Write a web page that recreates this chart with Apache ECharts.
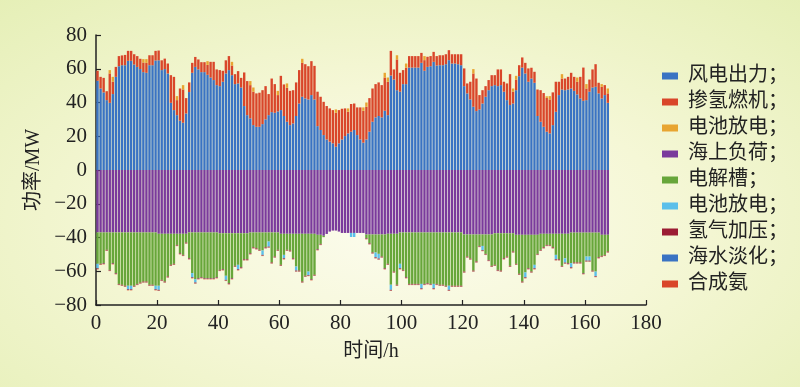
<!DOCTYPE html>
<html><head><meta charset="utf-8">
<script src="https://cdn.jsdelivr.net/npm/echarts@6/dist/echarts.min.js"></script>
<style>
html,body{margin:0;padding:0;}
#c{width:800px;height:387px;background:radial-gradient(ellipse 75% 80% at 50% 58%, #fcfcee 0%, #f5f7d6 45%, #e5efb6 100%);}
</style></head><body>
<div id="c"></div>
<script>
// hour slots on the time axis (0-180 h, one slot per hour)
const hourSlots = [];
for (let i = 1; i <= 180; i++) hourSlots.push(String(i));

const windPower = [
52.9,48.3,46.0,41.4,39.8,45.0,55.2,61.5,62.1,62.1,
64.7,64.7,62.5,61.1,59.8,58.0,57.6,62.1,62.1,64.9,
65.0,59.2,59.8,57.2,39.8,35.5,32.5,29.2,28.0,33.5,
46.2,57.6,61.1,59.6,58.0,58.0,56.4,54.8,53.3,50.3,
49.7,52.3,57.2,59.2,56.2,50.9,51.3,48.9,37.9,32.5,
30.6,26.6,25.6,25.6,27.2,30.0,32.5,34.3,33.9,34.7,
35.5,32.0,28.6,26.6,27.6,32.0,39.4,43.4,42.4,41.8,
44.4,41.8,26.0,23.7,20.7,18.1,16.8,15.8,13.8,15.8,
18.1,20.1,21.7,22.7,23.7,20.7,18.1,16.2,18.1,22.7,
28.6,31.2,32.0,31.2,35.1,32.5,56.0,53.6,47.3,46.4,
50.9,50.9,60.7,60.7,60.7,60.7,63.5,58.8,61.1,61.5,
64.1,61.9,62.1,62.1,62.7,65.1,63.1,63.1,62.7,62.1,
49.7,45.4,41.8,37.5,34.9,35.9,39.4,43.4,47.3,49.7,
50.3,49.7,50.3,46.4,41.4,38.5,39.4,47.3,55.6,60.7,
57.2,52.3,54.2,51.7,32.0,28.6,25.6,22.7,21.7,26.6,
34.5,44.4,47.7,47.3,47.7,48.3,46.9,44.8,42.4,41.0,
41.4,46.4,48.9,49.3,45.4,42.4,44.4,39.8];

const h2Turbine = [
5.9,6.9,8.6,5.3,17.4,7.3,5.9,6.0,5.8,6.1,
5.9,5.9,6.1,6.4,6.1,5.7,5.9,5.9,5.9,5.7,
5.8,5.8,6.2,5.9,16.4,19.7,8.9,19.1,19.7,9.1,
5.7,5.9,5.9,5.9,5.9,5.9,5.9,9.3,10.8,9.3,
9.5,6.5,7.8,8.3,5.7,5.9,7.3,5.7,19.9,20.2,
19.7,19.8,19.8,20.2,20.1,19.7,12.5,19.9,17.0,9.7,
20.3,18.7,20.1,20.3,19.7,19.9,19.8,20.1,20.3,19.7,
20.1,19.9,20.4,19.7,19.7,19.8,19.7,19.7,20.1,19.7,
18.2,16.4,12.8,16.4,15.7,16.4,19.0,18.9,19.4,19.9,
19.7,19.7,19.9,19.1,19.7,19.8,14.6,6.0,18.2,11.2,
8.3,9.8,6.8,6.8,6.8,6.8,5.9,6.3,6.0,6.0,
5.9,5.6,5.9,5.9,5.9,5.9,5.5,5.5,5.9,6.5,
10.5,5.9,10.5,19.7,19.3,8.5,7.9,6.3,6.0,6.5,
5.9,9.9,9.3,5.9,9.9,18.3,7.0,6.3,6.5,6.0,
6.3,7.9,6.4,6.5,15.7,18.7,20.0,20.0,20.1,19.4,
17.8,7.9,6.5,6.9,7.5,9.3,8.3,7.5,12.8,19.7,
6.9,7.2,10.7,13.4,6.3,6.9,5.9,5.6];

const batteryDischarge = [
0,0,0,0,2.0,2.9,0,0,0,0,
0,0,0,0,0,2.0,2.2,0,0,0,
0,0,0,0,0,0,2.4,0,2.6,0,
0,0,0,0,0,0,2.2,0,0,0,
0,0,0,0,2.2,0,0,0,0,0,
2.4,2.5,0,0,0,0,0,0,0,2.5,
0,0,2.6,0,0,0,0,2.4,0,0,
0,0,0,0,0,0,0,0,2.0,0,
0,0,2.0,0,0,0,0,2.0,2.5,0,
0,0,0,0,2.8,2.5,0,0,2.5,0,
0,2.4,0,0,0,0,0,2.4,0,0,
0,0,0,0,0,0,0,0,0,0,
0,0,0,2.6,0,0,0,0,0,0,
0,0,0,0,0,0,1.9,2.2,0,0,
0,0,0,0,0,0,0,1.0,2.0,0,
0,0,2.6,0,0,0,0,2.5,0,0,
2.6,0,0,0,0,1.6,0,2.9];

const offshoreLoad = [
-37.0,-37.0,-37.0,-37.0,-37.0,-37.0,-37.0,-37.0,-37.0,-37.0,
-37.0,-37.0,-37.0,-37.0,-37.0,-37.0,-37.0,-37.0,-37.0,-37.0,
-37.8,-37.8,-37.8,-37.8,-37.8,-37.8,-37.8,-37.8,-37.8,-37.8,
-37.0,-37.0,-37.0,-37.0,-37.0,-37.0,-37.0,-37.0,-37.0,-37.0,
-37.5,-37.5,-37.5,-37.5,-37.5,-37.5,-37.5,-37.5,-37.5,-37.5,
-37.0,-37.0,-37.0,-37.0,-37.0,-37.0,-37.0,-37.0,-37.0,-37.0,
-37.8,-37.8,-37.8,-37.8,-37.8,-37.8,-37.8,-37.8,-37.8,-37.8,
-37.8,-37.8,-38.4,-38.4,-39.0,-37.9,-36.5,-35.9,-35.9,-36.5,
-37.3,-37.3,-37.3,-37.3,-37.3,-37.3,-37.3,-37.3,-38.2,-38.2,
-38.2,-38.2,-38.2,-38.2,-38.2,-37.8,-37.8,-37.8,-37.8,-37.0,
-37.0,-37.0,-37.0,-37.0,-37.0,-37.0,-37.0,-37.0,-37.0,-37.0,
-37.0,-37.0,-37.0,-37.0,-37.0,-37.0,-37.0,-37.0,-37.0,-37.0,
-38.2,-38.2,-38.2,-38.2,-38.2,-38.2,-38.2,-38.2,-38.2,-38.2,
-37.5,-37.5,-37.5,-37.5,-37.5,-37.5,-37.5,-38.4,-38.4,-38.4,
-38.4,-38.4,-38.4,-38.4,-38.4,-37.8,-37.8,-37.8,-37.8,-37.8,
-37.8,-37.8,-37.8,-37.8,-37.8,-37.1,-37.1,-37.1,-37.1,-37.1,
-37.1,-37.1,-37.1,-37.1,-37.1,-38.4,-38.4,-38.4];

const electrolyzer = [
-18.6,-18.6,-18.2,-10.3,-22.2,-18.2,-24.1,-30.5,-31.0,-31.6,
-31.6,-31.6,-31.6,-30.5,-29.7,-29.1,-29.1,-31.0,-31.0,-31.6,
-30.8,-27.3,-28.3,-25.3,-18.4,-17.8,-6.6,-11.5,-12.5,-5.2,
-15.3,-24.1,-27.7,-27.1,-26.5,-27.1,-27.1,-27.1,-27.1,-26.5,
-21.7,-21.3,-25.2,-29.6,-26.6,-19.3,-18.7,-20.1,-15.4,-15.4,
-12.3,-8.8,-9.4,-10.3,-10.7,-8.8,-5.4,-17.8,-14.3,-10.3,
-18.4,-12.5,-9.5,-9.9,-14.5,-19.4,-21.8,-28.3,-24.9,-22.4,
-26.9,-24.3,-8.5,-5.4,-0.8,0,0,0,0,0,
0,0,0,0,0,0,0,0,-2.2,-5.2,
-10.7,-10.7,-11.5,-13.1,-20.0,-17.8,-30.2,-22.4,-30.2,-18.6,
-22.2,-26.5,-30.5,-30.5,-30.5,-30.5,-30.5,-30.5,-30.1,-30.5,
-30.5,-30.5,-31.0,-31.0,-31.6,-31.6,-31.6,-31.6,-31.6,-31.6,
-22.0,-13.1,-14.3,-21.4,-16.0,-6.8,-6.8,-11.5,-15.1,-18.6,
-18.7,-21.7,-22.1,-14.8,-13.8,-19.3,-10.8,-17.2,-23.1,-27.7,
-22.3,-19.8,-21.8,-17.8,-11.3,-9.5,-8.0,-6.6,-6.6,-8.0,
-12.5,-15.1,-19.0,-14.5,-17.4,-18.1,-17.7,-17.7,-17.7,-24.0,
-14.2,-14.2,-22.5,-23.1,-14.6,-12.5,-11.9,-9.9];

const batteryCharge = [
-2.6,0,0,0,0,0,0,0,0,0,
-2.0,-2.0,0,0,0,0,0,0,0,-2.0,
-2.4,0,0,0,0,0,0,0,0,0,
0,-2.4,-2.0,0,0,0,0,0,0,0,
0,0,-2.4,0,0,0,-2.6,0,0,0,
0,0,0,0,-2.6,0,-3.0,0,0,0,
0,-2.0,0,0,0,-2.4,0,0,0,-2.0,
0,0,0,0,0,0,0,0,0,0,
0,0,0,-2.4,-2.4,0,0,0,0,0,
0,-2.8,-2.8,0,0,0,-3.0,0,0,-2.6,
0,0,0,0,0,0,-2.5,0,0,0,
-2.5,0,0,0,0,-2.4,0,0,0,0,
0,0,0,0,0,0,-2.4,0,0,0,
0,0,0,0,0,0,0,0,0,0,
-2.8,0,0,-2.0,0,0,0,0,0,0,
-2.6,0,0,-2.6,0,-2.4,0,0,0,0,
-2.4,-2.4,0,-2.6,0,0,0,0];

const h2Compression = [
-0.4,-0.4,-0.4,-0.4,-0.4,-0.4,-0.4,-0.4,-0.4,-0.4,
-0.4,-0.4,-0.4,-0.4,-0.4,-0.4,-0.4,-0.4,-0.4,-0.4,
-0.4,-0.4,-0.4,-0.4,-0.4,-0.4,-0.4,-0.4,-0.4,-0.4,
-0.4,-0.4,-0.4,-0.4,-0.4,-0.4,-0.4,-0.4,-0.4,-0.4,
-0.4,-0.4,-0.4,-0.4,-0.4,-0.4,-0.4,-0.4,-0.4,-0.4,
-0.4,-0.4,-0.4,-0.4,-0.4,-0.4,-0.4,-0.4,-0.4,-0.4,
-0.4,-0.4,-0.4,-0.4,-0.4,-0.4,-0.4,-0.4,-0.4,-0.4,
-0.4,-0.4,-0.4,-0.4,0,0,0,0,0,0,
0,0,0,0,0,0,0,0,-0.4,-0.4,
-0.4,-0.4,-0.4,-0.4,-0.4,-0.4,-0.4,-0.4,-0.4,-0.4,
-0.4,-0.4,-0.4,-0.4,-0.4,-0.4,-0.4,-0.4,-0.4,-0.4,
-0.4,-0.4,-0.4,-0.4,-0.4,-0.4,-0.4,-0.4,-0.4,-0.4,
-0.4,-0.4,-0.4,-0.4,-0.4,-0.4,-0.4,-0.4,-0.4,-0.4,
-0.4,-0.4,-0.4,-0.4,-0.4,-0.4,-0.4,-0.4,-0.4,-0.4,
-0.4,-0.4,-0.4,-0.4,-0.4,-0.4,-0.4,-0.4,-0.4,-0.4,
-0.4,-0.4,-0.4,-0.4,-0.4,-0.4,-0.4,-0.4,-0.4,-0.4,
-0.4,-0.4,-0.4,-0.4,-0.4,-0.4,-0.4,-0.4];

const desalination = [
-0.1,-0.1,-0.1,-0.1,-0.1,-0.1,-0.1,-0.1,-0.1,-0.1,
-0.1,-0.1,-0.1,-0.1,-0.1,-0.1,-0.1,-0.1,-0.1,-0.1,
-0.1,-0.1,-0.1,-0.1,-0.1,-0.1,-0.1,-0.1,-0.1,-0.1,
-0.1,-0.1,-0.1,-0.1,-0.1,-0.1,-0.1,-0.1,-0.1,-0.1,
-0.1,-0.1,-0.1,-0.1,-0.1,-0.1,-0.1,-0.1,-0.1,-0.1,
-0.1,-0.1,-0.1,-0.1,-0.1,-0.1,-0.1,-0.1,-0.1,-0.1,
-0.1,-0.1,-0.1,-0.1,-0.1,-0.1,-0.1,-0.1,-0.1,-0.1,
-0.1,-0.1,-0.1,-0.1,0,0,0,0,0,0,
0,0,0,0,0,0,0,0,-0.1,-0.1,
-0.1,-0.1,-0.1,-0.1,-0.1,-0.1,-0.1,-0.1,-0.1,-0.1,
-0.1,-0.1,-0.1,-0.1,-0.1,-0.1,-0.1,-0.1,-0.1,-0.1,
-0.1,-0.1,-0.1,-0.1,-0.1,-0.1,-0.1,-0.1,-0.1,-0.1,
-0.1,-0.1,-0.1,-0.1,-0.1,-0.1,-0.1,-0.1,-0.1,-0.1,
-0.1,-0.1,-0.1,-0.1,-0.1,-0.1,-0.1,-0.1,-0.1,-0.1,
-0.1,-0.1,-0.1,-0.1,-0.1,-0.1,-0.1,-0.1,-0.1,-0.1,
-0.1,-0.1,-0.1,-0.1,-0.1,-0.1,-0.1,-0.1,-0.1,-0.1,
-0.1,-0.1,-0.1,-0.1,-0.1,-0.1,-0.1,-0.1];

const ammoniaSynthesis = [
-0.2,-0.2,-0.2,-0.2,-0.2,-0.2,-0.2,-0.2,-0.2,-0.2,
-0.2,-0.2,-0.2,-0.2,-0.2,-0.2,-0.2,-0.2,-0.2,-0.2,
-0.2,-0.2,-0.2,-0.2,-0.2,-0.2,-0.2,-0.2,-0.2,-0.2,
-0.2,-0.2,-0.2,-0.2,-0.2,-0.2,-0.2,-0.2,-0.2,-0.2,
-0.2,-0.2,-0.2,-0.2,-0.2,-0.2,-0.2,-0.2,-0.2,-0.2,
-0.2,-0.2,-0.2,-0.2,-0.2,-0.2,-0.2,-0.2,-0.2,-0.2,
-0.2,-0.2,-0.2,-0.2,-0.2,-0.2,-0.2,-0.2,-0.2,-0.2,
-0.2,-0.2,-0.2,-0.2,0,0,0,0,0,0,
0,0,0,0,0,0,0,0,-0.2,-0.2,
-0.2,-0.2,-0.2,-0.2,-0.2,-0.2,-0.2,-0.2,-0.2,-0.2,
-0.2,-0.2,-0.2,-0.2,-0.2,-0.2,-0.2,-0.2,-0.2,-0.2,
-0.2,-0.2,-0.2,-0.2,-0.2,-0.2,-0.2,-0.2,-0.2,-0.2,
-0.2,-0.2,-0.2,-0.2,-0.2,-0.2,-0.2,-0.2,-0.2,-0.2,
-0.2,-0.2,-0.2,-0.2,-0.2,-0.2,-0.2,-0.2,-0.2,-0.2,
-0.2,-0.2,-0.2,-0.2,-0.2,-0.2,-0.2,-0.2,-0.2,-0.2,
-0.2,-0.2,-0.2,-0.2,-0.2,-0.2,-0.2,-0.2,-0.2,-0.2,
-0.2,-0.2,-0.2,-0.2,-0.2,-0.2,-0.2,-0.2];

const seriesNames = ['风电出力；','掺氢燃机；','电池放电；','海上负荷；','电解槽；','电池放电； ','氢气加压；','海水淡化；','合成氨'];
const seriesData = [windPower, h2Turbine, batteryDischarge, offshoreLoad, electrolyzer, batteryCharge, h2Compression, desalination, ammoniaSynthesis];
const seriesColors = ['#3a73c3','#d9462a','#e8a531','#7a3a9c','#67a63a','#5bbfea','#9b1c33','#3a73c3','#d9462a'];

const serif = "'Liberation Serif','Noto Sans CJK SC',serif";
const minus = v => String(v).replace('-', '\u2212');
const axisCol = '#222';

const chart = echarts.init(document.getElementById('c'), null, {renderer:'canvas'});
chart.setOption({
  backgroundColor: 'transparent',
  animation: false,
  grid: {left: 96, right: 154, top: 35, bottom: 82},
  legend: {
    orient: 'vertical', left: 657, top: 61,
    itemWidth: 16, itemHeight: 7, itemGap: 6,
    icon: 'rect',
    data: seriesNames,
    textStyle: {fontFamily: serif, fontSize: 20, lineHeight: 20, color: axisCol, padding: [0,0,0,5]}
  },
  xAxis: [{
    type: 'value', min: 0, max: 180, interval: 20,
    name: '时间/h', nameLocation: 'middle', nameGap: 37,
    nameTextStyle: {fontFamily: serif, fontSize: 20, color: axisCol},
    axisLine: {show: true, onZero: false, lineStyle: {color: axisCol, width: 1.5}},
    axisTick: {show: true, inside: true, length: 5, lineStyle: {color: axisCol, width: 1.2}},
    axisLabel: {fontFamily: serif, fontSize: 21, color: axisCol, margin: 8, formatter: minus},
    splitLine: {show: false}
  }, {
    type: 'category', data: hourSlots, show: false, boundaryGap: true,
    position: 'bottom', axisLine: {onZero: false}
  }],
  yAxis: {
    type: 'value', min: -80, max: 80, interval: 20,
    name: '功率/MW', nameLocation: 'middle', nameGap: 47, nameRotate: 90,
    nameTextStyle: {fontFamily: serif, fontSize: 20, color: axisCol},
    axisLine: {show: true, onZero: false, lineStyle: {color: axisCol, width: 1.5}},
    axisTick: {show: true, inside: true, length: 5, lineStyle: {color: axisCol, width: 1.2}},
    axisLabel: {fontFamily: serif, fontSize: 21, color: axisCol, margin: 9, formatter: minus},
    splitLine: {show: false}
  },
  series: seriesNames.map((n, k) => ({
    name: n, type: 'bar', stack: 'p', xAxisIndex: 1,
    barWidth: 2.4,
    itemStyle: {color: seriesColors[k]},
    data: seriesData[k]
  }))
});
</script>
</body></html>
